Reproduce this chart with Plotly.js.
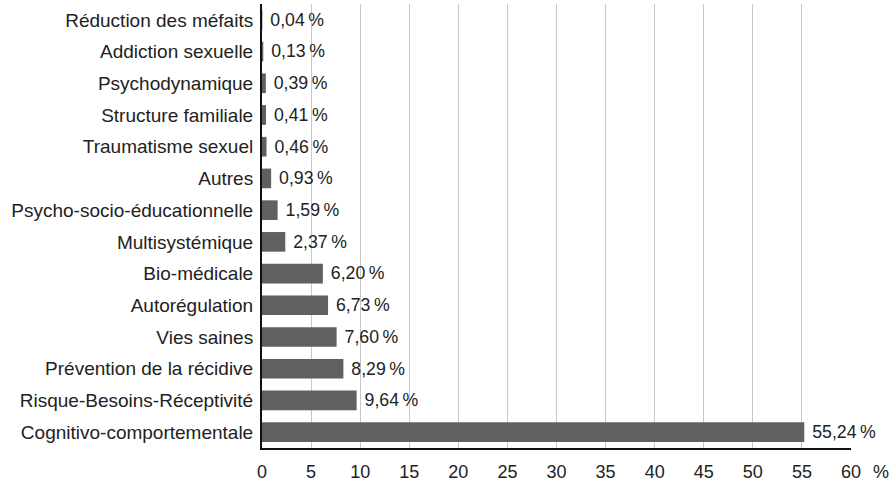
<!DOCTYPE html>
<html><head><meta charset="utf-8">
<script src="https://cdn.plot.ly/plotly-3.0.1.min.js"></script>
<style>html,body{margin:0;padding:0;background:#fff}#c{width:896px;height:482px}</style>
</head><body><div id="c"></div>
<script>
const categories = ["Réduction des méfaits","Addiction sexuelle","Psychodynamique","Structure familiale","Traumatisme sexuel","Autres","Psycho-socio-éducationnelle","Multisystémique","Bio-médicale","Autorégulation","Vies saines","Prévention de la récidive","Risque-Besoins-Réceptivité","Cognitivo-comportementale"];
const values = [0.04,0.13,0.39,0.41,0.46,0.93,1.59,2.37,6.20,6.73,7.60,8.29,9.64,55.24];
const labels = ["0,04 %","0,13 %","0,39 %","0,41 %","0,46 %","0,93 %","1,59 %","2,37 %","6,20 %","6,73 %","7,60 %","8,29 %","9,64 %","55,24 %"];
const tickVals = [0,5,10,15,20,25,30,35,40,45,50,55,60];

const trace = {
  type:'bar', orientation:'h',
  y: categories, x: values,
  text: labels.map(s => '\u00A0' + s.replace(' ', '\u2009')), textposition:'outside', cliponaxis:false,
  textfont:{family:'Liberation Sans, Arial, sans-serif', size:18, color:'#222'},
  marker:{color:'#606060'}, width:0.62,
  hoverinfo:'none'
};
const layout = {
  width:896, height:482,
  margin:{l:262, r:45, t:4, b:34},
  paper_bgcolor:'#fff', plot_bgcolor:'#fff',
  font:{family:'Liberation Sans, Arial, sans-serif', size:18, color:'#222'},
  showlegend:false,
  xaxis:{range:[0,60], tickvals:tickVals, ticktext:tickVals.map(String),
    showgrid:true, gridcolor:'#c8c8c8', gridwidth:1,
    showline:true, linecolor:'#111', linewidth:2,
    ticks:'outside', ticklen:6, tickcolor:'rgba(0,0,0,0)', zeroline:false,
    tickfont:{size:18, color:'#222'}},
  yaxis:{autorange:'reversed', showline:true, linecolor:'#111', linewidth:2,
    ticks:'outside', ticklen:3, tickcolor:'rgba(0,0,0,0)',
    showgrid:false, tickfont:{size:19, color:'#222'}},
  annotations:[{xref:'paper', yref:'paper', x:1, y:0, xanchor:'left', yanchor:'top',
    text:'%', showarrow:false, xshift:20, yshift:-12, font:{size:18, color:'#222'}}]
};
Plotly.newPlot('c',[trace],layout,{displayModeBar:false,staticPlot:true});
</script></body></html>
